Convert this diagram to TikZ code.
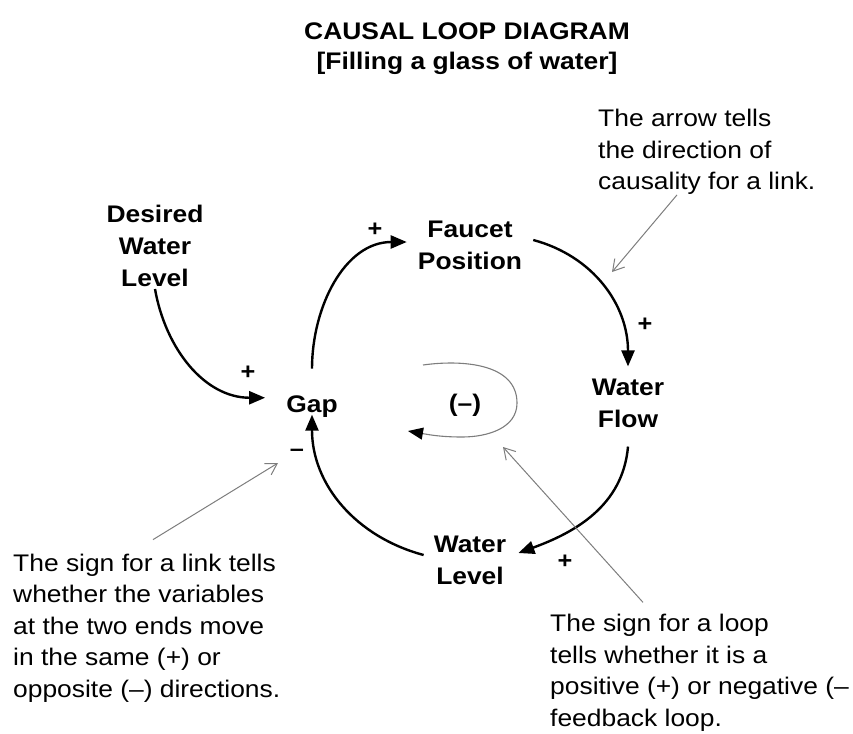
\documentclass[tikz,border=0pt]{standalone}
\usepackage{fontspec}
\setmainfont{Liberation Sans}[FakeStretch=1.1]
\usetikzlibrary{arrows.meta,positioning}
\definecolor{ptrgray}{RGB}{125,125,125}

\begin{document}
\begin{tikzpicture}[x=1pt, y=1pt,
    var/.style={font=\fontsize{24}{32}\selectfont\bfseries, align=center, inner sep=2pt},
    sign/.style={font=\fontsize{23}{26}\selectfont\bfseries, inner sep=1pt},
    note/.style={font=\fontsize{24}{31.5}\selectfont, align=left, anchor=west, inner sep=0pt},
    link/.style={-{Triangle[length=16pt,width=13pt]}, line width=2.4pt},
    ptr/.style={-{Straight Barb[length=11pt,width=13pt]}, line width=1pt, draw=ptrgray},
    loopline/.style={-{Triangle[length=15pt,width=12pt,color=black]}, line width=1.1pt, draw=ptrgray}
]
\useasboundingbox (0,0) rectangle (853,-733);

\node[var, font=\fontsize{24}{30}\selectfont\bfseries] (title) at (467,-49)
    {CAUSAL LOOP DIAGRAM\\{[}Filling a glass of water{]}};

% variables of the loop
\node[var] (desired) at (155,-246) {Desired\\Water\\Level};
\node[var] (faucet) at (470,-245) {Faucet\\Position};
\node[var] (gap) at (312,-406.75) {Gap};
\node[var] (flow) at (628,-403) {Water\\Flow};
\node[var] (level) at (470,-560) {Water\\Level};
\node[var] (loopsign) at (465,-405) {(--)};

% link polarities
\node[sign] (sdesired) at (248,-373) {+};
\node[sign] (sfaucet) at (375,-230) {+};
\node[sign] (sflow) at (645,-325) {+};
\node[sign] (slevel) at (565,-562) {+};
\node[sign] (sgap) at (297,-453) {--};

% causal links
\draw[link] (desired.south) to[out=-80,in=180] ([xshift=-19pt,yshift=9pt]gap.west);
\draw[link] ([yshift=25pt]gap.north) to[out=90,in=180] ([xshift=-9pt,yshift=3pt]faucet.west);
\draw[link] ([xshift=9pt,yshift=5pt]faucet.east) to[out=-15,in=90] ([yshift=10pt]flow.north);
\draw[link] ([yshift=-17pt]flow.south) to[out=-95,in=20] ([xshift=10pt,yshift=7pt]level.east);
\draw[link] ([xshift=-8pt,yshift=5pt]level.west) to[out=165,in=-90] ([yshift=-2pt]gap.base);

% loop marker
\draw[loopline] (423,-365) to[out=8,in=90] (517,-403) to[out=-90,in=0] (462,-437)
    to[out=180,in=-10] (408,-431);

% notes
\node[note] (notearrow) at (598,-152) {The arrow tells\\the direction of\\causality for a link.};
\node[note] (notelink) at (13,-628) {The sign for a link tells\\whether the variables\\at the two ends move\\in the same (+) or\\opposite (--) directions.};
\node[note] (noteloop) at (550,-673) {The sign for a loop\\tells whether it is a\\positive (+) or negative (--\\feedback loop.};

\coordinate (tiparrow) at (612,-272);
\coordinate (tiplink) at (278,-463);
\coordinate (tiploop) at (503,-447);
\draw[ptr] ([xshift=79pt]notearrow.south west) -- (tiparrow);
\draw[ptr] ([xshift=140pt,yshift=14pt]notelink.north west) -- (tiplink);
\draw[ptr] ([xshift=93pt,yshift=12pt]noteloop.north west) -- (tiploop);
\end{tikzpicture}
\end{document}
